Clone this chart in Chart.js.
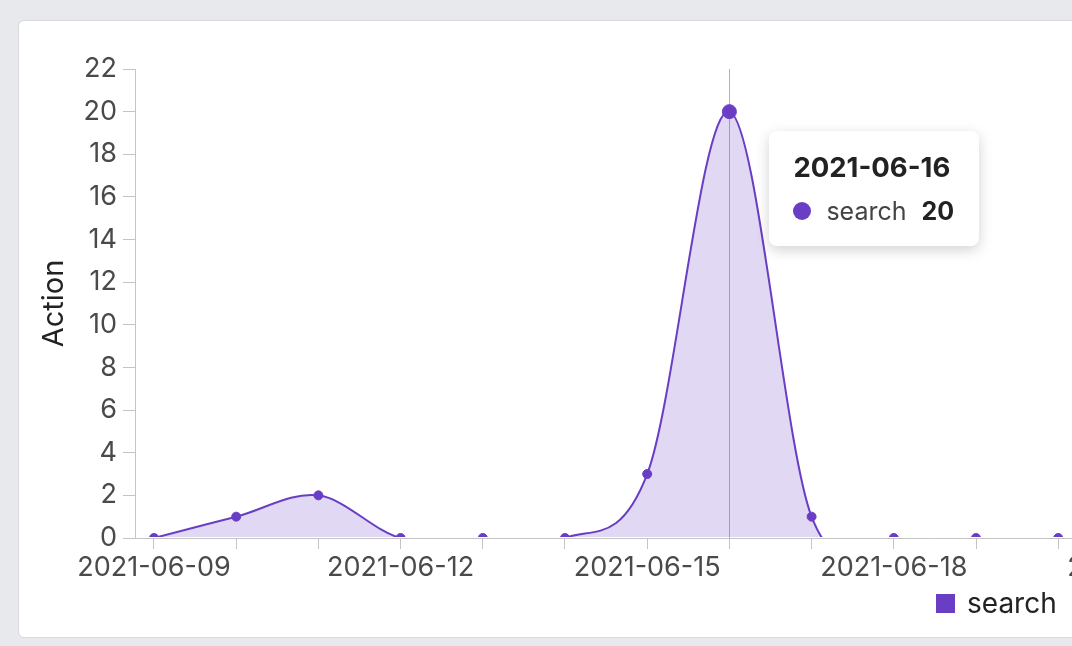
<!DOCTYPE html>
<html>
<head>
<meta charset="utf-8">
<title>search actions</title>
<script src="https://cdn.jsdelivr.net/npm/chart.js@4/dist/chart.umd.min.js"></script>
<style>
    html, body {
        margin: 0;
        padding: 0;
        width: 1072px;
        height: 646px;
        overflow: hidden;
        background: #e8e9ed;
        font-family: Inter, "Noto Sans", sans-serif;
    }
    .card {
        position: absolute;
        left: 18px;
        top: 20px;
        width: 1200px;
        height: 616px;
        background: #fff;
        border: 1px solid #d9dadf;
        border-radius: 6px;
    }
    #chart-wrap {
        position: absolute;
        left: 0;
        top: 0;
        width: 1250px;
        height: 646px;
    }
    .legend {
        position: absolute;
        left: 936px;
        top: 585px;
        display: flex;
        align-items: center;
        font-size: 28px;
        color: #222;
        line-height: 36px;
    }
    .legend .swatch {
        width: 19px;
        height: 19px;
        background: #6a3ec4;
        margin-right: 12px;
    }
    .tip {
        position: absolute;
        background: #fff;
        border-radius: 8px;
        box-shadow: 0 4px 14px rgba(0, 0, 0, 0.18);
        padding: 21px 25px 19px 24px;
        color: #222;
        white-space: nowrap;
    }
    .tip .title {
        font-weight: bold;
        font-size: 27.5px;
        line-height: 31px;
        margin-bottom: 13px;
    }
    .tip .row {
        display: flex;
        align-items: center;
        font-size: 25px;
        line-height: 31px;
    }
    .tip .dot {
        width: 18px;
        height: 18px;
        border-radius: 50%;
        background: #6a3ec4;
        margin-right: 15px;
    }
    .tip .name {
        color: #444;
        margin-right: 15px;
    }
    .tip .val {
        font-weight: bold;
    }
</style>
</head>
<body>
<div class="card"></div>
<div id="chart-wrap"><canvas id="actions-chart" width="1250" height="646"></canvas></div>
<div class="legend"><span class="swatch"></span><span>search</span></div>
<div class="tip" id="tip">
    <div class="title" id="tip-title"></div>
    <div class="row"><span class="dot"></span><span class="name" id="tip-name"></span><span class="val" id="tip-val"></span></div>
</div>
<script>
    // Days on the x axis (one tick per day, label every third)
    const days = [
        '2021-06-09', '2021-06-10', '2021-06-11', '2021-06-12', '2021-06-13',
        '2021-06-14', '2021-06-15', '2021-06-16', '2021-06-17', '2021-06-18',
        '2021-06-19', '2021-06-20', '2021-06-21'
    ];

    // "search" actions per day
    const seriesName = 'search';
    const searchCounts = [0, 1, 2, 0, 0, 0, 3, 20, 1, 0, 0, 0];

    // Y axis range
    const yMin = 0;
    const yMax = 22;
    const yStep = 2;

    // Highlighted day (tooltip)
    const hoverIndex = 7;

    const lineColor = '#6a3ec4';
    const fillColor = 'rgba(106, 62, 196, 0.2)';
    const tickColor = '#4a4a4a';
    const axisColor = '#c4c4c4';

    /**
     * Catmull-Rom style control points (the source chart overshoots
     * below zero after the peak, chart.js default spline does not)
     */
    const catmullRomPlugin = {
        id: 'catmullRom',
        afterDatasetsUpdate: function(chart) {
            chart.getSortedVisibleDatasetMetas().forEach(function(meta) {
                const pts = meta.data;
                for (let i = 0; i < pts.length; i++) {
                    const p0 = pts[Math.max(i - 1, 0)];
                    const p1 = pts[i];
                    const p2 = pts[Math.min(i + 1, pts.length - 1)];
                    const dx = (p2.x - p0.x) / 6;
                    const dy = (p2.y - p0.y) / 6;
                    p1.cp1x = p1.x - dx;
                    p1.cp1y = p1.y - dy;
                    p1.cp2x = p1.x + dx;
                    p1.cp2y = p1.y + dy;
                }
                meta.dataset._pointsUpdated = true;
            });
        }
    };

    /**
     * Vertical hover rule + html tooltip placed from the scales
     */
    const hoverPlugin = {
        id: 'hoverRule',
        beforeDatasetsDraw: function(chart) {
            const ctx = chart.ctx;
            const area = chart.chartArea;
            const x = chart.scales.x.getPixelForValue(hoverIndex);
            ctx.save();
            ctx.strokeStyle = '#b3b3b3';
            ctx.lineWidth = 1;
            ctx.beginPath();
            ctx.moveTo(Math.round(x) + 0.5, area.top);
            ctx.lineTo(Math.round(x) + 0.5, area.bottom);
            ctx.stroke();
            ctx.restore();
        },
        afterDraw: function(chart) {
            const x = chart.scales.x.getPixelForValue(hoverIndex);
            const y = chart.scales.y.getPixelForValue(searchCounts[hoverIndex]);
            const tip = document.getElementById('tip');
            document.getElementById('tip-title').textContent = days[hoverIndex];
            document.getElementById('tip-name').textContent = seriesName;
            document.getElementById('tip-val').textContent = searchCounts[hoverIndex];
            tip.style.left = (x + 40) + 'px';
            tip.style.top = (y + 19) + 'px';
        }
    };

    const points = searchCounts.map(function(v, i) {
        return { x: i, y: v };
    });

    const baseFont = { family: 'Inter, "Noto Sans", sans-serif', size: 27 };

    new Chart(document.getElementById('actions-chart'), {
        type: 'line',
        data: {
            datasets: [{
                label: seriesName,
                data: points,
                borderColor: lineColor,
                backgroundColor: fillColor,
                borderWidth: 2,
                fill: 'origin',
                tension: 0.4,
                // hide the part of the curve lying on / under the zero line
                clip: { left: 2, top: 8, right: 2, bottom: -1 },
                pointBackgroundColor: lineColor,
                pointBorderColor: lineColor,
                pointBorderWidth: 1,
                pointRadius: function(c) {
                    return c.dataIndex === hoverIndex ? 7 : 4.5;
                }
            }]
        },
        plugins: [catmullRomPlugin, hoverPlugin],
        options: {
            responsive: false,
            animation: false,
            events: [],
            layout: {
                padding: { left: 0, top: 69, right: 50, bottom: 48 }
            },
            plugins: {
                legend: { display: false },
                tooltip: { enabled: false }
            },
            scales: {
                x: {
                    type: 'linear',
                    min: -0.231,
                    max: 12.725,
                    grid: {
                        drawOnChartArea: false,
                        tickLength: 11,
                        color: axisColor
                    },
                    border: { color: axisColor },
                    ticks: {
                        stepSize: 1,
                        includeBounds: false,
                        autoSkip: false,
                        maxRotation: 0,
                        padding: 3,
                        color: tickColor,
                        font: baseFont,
                        callback: function(value) {
                            return value % 3 === 0 ? days[value] : '';
                        }
                    },
                    afterFit: function(scale) {
                        scale.height = 60;
                    }
                },
                y: {
                    min: yMin,
                    max: yMax,
                    grid: {
                        drawOnChartArea: false,
                        tickLength: 12,
                        color: axisColor
                    },
                    border: { color: axisColor },
                    ticks: {
                        stepSize: yStep,
                        padding: 6,
                        color: tickColor,
                        font: baseFont
                    },
                    title: {
                        display: true,
                        text: 'Action',
                        color: '#222',
                        font: { family: baseFont.family, size: 29 },
                        padding: { top: 37, bottom: 0 }
                    },
                    afterFit: function(scale) {
                        scale.width = 135;
                    }
                }
            }
        }
    });
</script>
</body>
</html>
